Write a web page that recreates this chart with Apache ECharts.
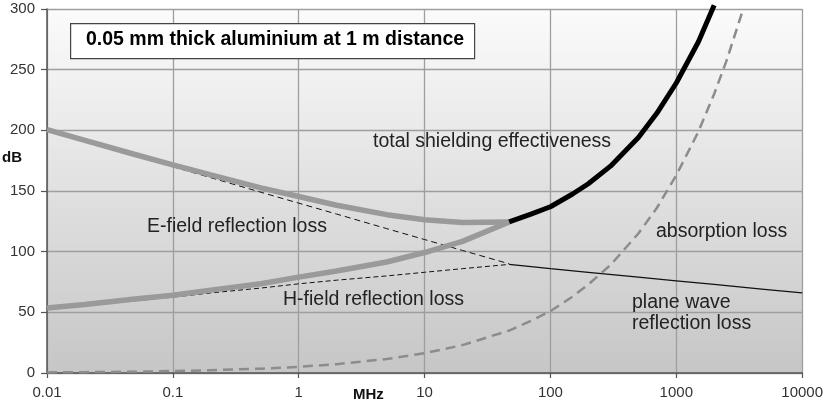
<!DOCTYPE html>
<html>
<head>
<meta charset="utf-8">
<script src="https://cdn.jsdelivr.net/npm/echarts@6/dist/echarts.min.js"></script>
<style>
html,body{margin:0;padding:0;background:#fff;}
#chart{width:826px;height:403px;}
</style>
</head>
<body>
<div id="chart"></div>
<script>
// Frequencies in MHz
var fLow = [0.01, 0.02, 0.05, 0.1, 0.2, 0.5, 1, 2, 5, 10, 20, 47];
var fHigh = [47, 70, 100, 150, 200, 300, 500, 700, 1000, 1500, 2000];
var fAbs = [0.01, 0.02, 0.05, 0.1, 0.2, 0.5, 1, 2, 5, 10, 20, 47, 70, 100, 150, 200, 300, 500, 700, 1000, 1500, 2000, 2500, 3400];
var fPlane = [47, 100, 200, 500, 1000, 2000, 5000, 10000];

// dB values
var eFieldReflection = [200, 191, 179, 170, 161, 149, 140, 131, 119, 110, 101, 90];
var hFieldReflection = [52.5, 55.5, 59.5, 62.5, 66, 70, 73.5, 76.5, 80, 83, 86, 89.5];
var absorptionLoss = [0.5, 0.7, 1.1, 1.6, 2.3, 3.6, 5.1, 7.3, 11.5, 16.3, 23, 35, 43, 51, 63, 73, 89, 115, 136, 163, 199, 230, 257, 300];
var planeWaveReflection = [89.5, 86, 83, 79, 76, 73, 69, 66];
var eFieldTotal = [200.5, 191.7, 180.1, 171.6, 163.3, 152.6, 145.5, 138.3, 130.5, 126.3, 124, 124.5];
var hFieldTotal = [53.5, 56.5, 61, 64.1, 68.3, 73.6, 79, 84, 91.5, 99.3, 108.5, 124.5];
var totalShielding = [124.5, 131, 137, 147.5, 156, 170.5, 194, 214, 239, 273, 303];

var xTickLabels = ['0.01', '0.1', '1', '10', '100', '1000', '10000'];
var yTicks = [0, 50, 100, 150, 200, 250, 300];

function pairs(xs, ys) { return xs.map(function (x, i) { return [x, ys[i]]; }); }

var chart = echarts.init(document.getElementById('chart'), null, {renderer: 'canvas'});
var FONT = 'Liberation Sans, Arial, sans-serif';

chart.setOption({
  animation: false,
  grid: {
    left: 47, right: 22, top: 9, bottom: 30,
    show: true,
    borderWidth: 0,
    backgroundColor: new echarts.graphic.LinearGradient(0, 0, 0, 1, [
      {offset: 0, color: '#fbfbfb'},
      {offset: 1, color: '#c6c6c6'}
    ])
  },
  xAxis: {
    type: 'log', logBase: 10, min: 0.01, max: 10000,
    axisLine: {show: true, lineStyle: {color: '#555', width: 1.5}},
    axisTick: {show: true, length: 5, lineStyle: {color: '#555', width: 1.2}},
    minorTick: {show: false},
    splitLine: {show: true, lineStyle: {color: '#9e9e9e', width: 1.3}},
    axisLabel: {
      color: '#333', fontSize: 15, fontFamily: FONT, margin: 12,
      formatter: function (v) {
        var i = Math.round(Math.log(v) / Math.LN10) + 2;
        return xTickLabels[i] !== undefined ? xTickLabels[i] : '';
      }
    }
  },
  yAxis: {
    type: 'value', min: yTicks[0], max: yTicks[yTicks.length - 1], interval: 50,
    axisLine: {show: true, lineStyle: {color: '#555', width: 1.5}},
    axisTick: {show: true, length: 6, lineStyle: {color: '#555', width: 1.2}},
    splitLine: {show: true, lineStyle: {color: '#9e9e9e', width: 1.3}},
    axisLabel: {color: '#333', fontSize: 15, fontFamily: FONT, margin: 12}
  },
  series: [
    {
      name: 'E-field reflection loss', type: 'line', data: pairs(fLow, eFieldReflection),
      showSymbol: false, symbol: 'none', z: 2,
      lineStyle: {color: '#111', width: 1, type: [6, 4]}
    },
    {
      name: 'H-field reflection loss', type: 'line', data: pairs(fLow, hFieldReflection),
      showSymbol: false, symbol: 'none', z: 2,
      lineStyle: {color: '#111', width: 1, type: [5, 3]}
    },
    {
      name: 'plane wave reflection loss', type: 'line', data: pairs(fPlane, planeWaveReflection),
      showSymbol: false, symbol: 'none', z: 2,
      lineStyle: {color: '#111', width: 1.3}
    },
    {
      name: 'absorption loss', type: 'line', data: pairs(fAbs, absorptionLoss),
      showSymbol: false, symbol: 'none', z: 3, clip: false,
      lineStyle: {color: '#8c8c8c', width: 2.5, type: [10, 6]}
    },
    {
      name: 'E-field total', type: 'line', data: pairs(fLow, eFieldTotal),
      showSymbol: false, symbol: 'none', z: 4,
      lineStyle: {color: '#9a9a9a', width: 5.5}
    },
    {
      name: 'H-field total', type: 'line', data: pairs(fLow, hFieldTotal),
      showSymbol: false, symbol: 'none', z: 4,
      lineStyle: {color: '#9a9a9a', width: 5.5}
    },
    {
      name: 'total shielding effectiveness', type: 'line', data: pairs(fHigh, totalShielding),
      showSymbol: false, symbol: 'none', z: 5, clip: false,
      lineStyle: {color: '#000', width: 5}
    }
  ],
  graphic: [
    {
      type: 'rect', left: 70, top: 23, z: 10,
      shape: {width: 404, height: 35},
      style: {fill: '#fff', stroke: '#444', lineWidth: 1.2}
    },
    {
      type: 'text', left: 86, top: 30, z: 11,
      style: {text: '0.05 mm thick aluminium at 1 m distance', fill: '#000',
        font: 'bold 19.5px ' + FONT}
    },
    {type: 'text', left: 373, top: 132, z: 11,
      style: {text: 'total shielding effectiveness', fill: '#222', font: '19.5px ' + FONT}},
    {type: 'text', left: 147, top: 217, z: 11,
      style: {text: 'E-field reflection loss', fill: '#222', font: '19.5px ' + FONT}},
    {type: 'text', left: 283, top: 290, z: 11,
      style: {text: 'H-field reflection loss', fill: '#222', font: '19.5px ' + FONT}},
    {type: 'text', left: 656, top: 222, z: 11,
      style: {text: 'absorption loss', fill: '#222', font: '19.5px ' + FONT}},
    {type: 'text', left: 632, top: 292, z: 11,
      style: {text: 'plane wave\nreflection loss', fill: '#222', font: '19.5px ' + FONT, lineHeight: 21}},
    {type: 'text', left: 2, top: 150, z: 11,
      style: {text: 'dB', fill: '#111', font: 'bold 15px ' + FONT}},
    {type: 'text', left: 353, top: 387, z: 11,
      style: {text: 'MHz', fill: '#111', font: 'bold 15px ' + FONT}}
  ]
});
</script>
</body>
</html>
